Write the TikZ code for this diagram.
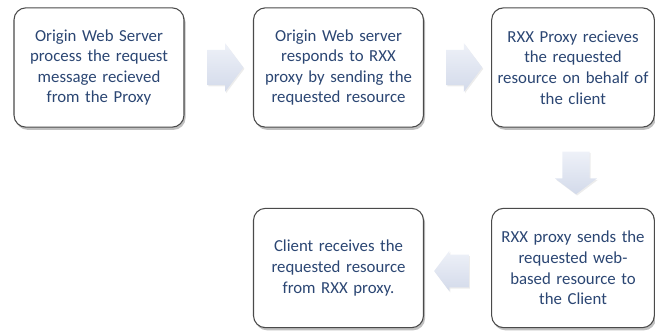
\documentclass[tikz,border=0pt]{standalone}
\usepackage{fontspec}
\setmainfont{Carlito}
\usepackage{tikz}
\usetikzlibrary{shapes.arrows,shadows,calc}
\usepackage{xcolor}
\definecolor{steptext}{HTML}{2B4673}
\definecolor{stepline}{HTML}{4A4A4A}
\definecolor{arrowtop}{HTML}{EEF1F8}
\definecolor{arrowbot}{HTML}{D3DAEA}

\tikzset{
  stepbox/.style={draw=stepline, line width=0.8pt, fill=white, rounded corners=9pt,
    minimum width=127.5pt, minimum height=89.5pt, text width=124pt, align=center,
    text=steptext, font=\fontsize{12.6}{15.4}\selectfont, inner sep=1pt,
    drop shadow={shadow xshift=1.2pt, shadow yshift=-2pt, opacity=0.45, fill=black!55}},
  narrowbox/.style={stepbox, minimum width=121.5pt, text width=120pt},
  flowarrow/.style={single arrow, draw=none, inner xsep=0pt, inner ysep=13pt,
    top color=arrowtop, bottom color=arrowbot,
    minimum height=27pt,
    single arrow head extend=5pt, single arrow tip angle=106,
    drop shadow={shadow xshift=0.8pt, shadow yshift=-1pt, opacity=0.15, fill=black!50}}
}

\begin{document}
\begin{tikzpicture}[x=0.75pt, y=-0.75pt]
  \useasboundingbox (0,0) rectangle (655,333);

  % Top row
  \node[stepbox] (s1) at (99,67.5) {Origin Web Server\\process the request\\message recieved\\from the Proxy};
  \node[stepbox] (s2) at (338.5,67.5) {Origin Web server\\responds to RXX\\proxy by sending the\\requested resource};
  \node[narrowbox] (s3) at (573,67.5) {RXX Proxy recieves\\the requested\\resource on behalf of\\the client};

  % Bottom row
  \node[narrowbox] (s4) at (573,268) {RXX proxy sends the\\requested web-\\based resource to\\the Client};
  \node[stepbox] (s5) at (338.5,268) {Client receives the\\requested resource\\from RXX proxy.};

  % Arrows
  \node[flowarrow] (a1) at ($(s1.east)!0.5!(s2.west)$) {};
  \node[flowarrow] (a2) at ($(s2.east)!0.5!(s3.west)$) {};
  \node[flowarrow, shape border rotate=270, inner xsep=10pt, inner ysep=0pt, minimum height=32pt,
    single arrow head extend=5.5pt] (a3) at ($(s3.south)!0.5!(s4.north)+(3,0)$) {};
  \node[flowarrow, shape border rotate=180, inner ysep=12pt, minimum height=26pt,
    single arrow head extend=3pt] (a4) at ($(s4.west)!0.5!(s5.east)+(0,3)$) {};
\end{tikzpicture}
\end{document}
